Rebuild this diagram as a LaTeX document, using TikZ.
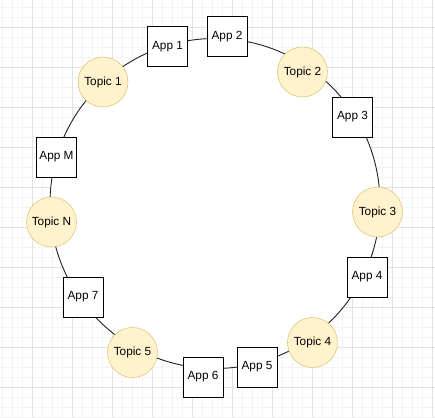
\documentclass[tikz,border=0pt]{standalone}
\usepackage{fontspec}
\setmainfont{Liberation Sans}
\definecolor{topicfill}{HTML}{FFF2CC}
\definecolor{topicline}{HTML}{D6B656}
\definecolor{gridminor}{HTML}{F3F3F3}
\definecolor{gridmajor}{HTML}{E2E2E2}
\definecolor{ringline}{HTML}{222222}

\begin{document}
\begin{tikzpicture}[x=1pt,y=-1pt]
\tikzstyle{every node}+=[inner sep=0pt, font=\fontsize{11.8}{13}\selectfont]
\tikzstyle{topic}=[circle, draw=topicline, fill=topicfill, minimum size=50pt]
\tikzstyle{app}=[draw=black, fill=white, line width=1pt, minimum size=40pt]
\useasboundingbox (0,0) rectangle (435,417);
% background grid
\foreach \gx in {2,12,...,432} \draw [gridminor] (\gx,0) -- (\gx,417);
\foreach \gy in {7,17,...,417} \draw [gridminor] (0,\gy) -- (435,\gy);
\foreach \gx in {32,72,...,432} \draw [gridmajor] (\gx,0) -- (\gx,417);
\foreach \gy in {27,67,...,387} \draw [gridmajor] (0,\gy) -- (435,\gy);
% ring
\node [circle, draw=ringline, line width=0.9pt, fill=white, minimum size=330pt] (ring) at (215,203.5) {};
% topics
\node [topic] (topic1) at (103,82) {Topic 1};
\node [topic] (topic2) at (302.5,72) {Topic 2};
\node [topic] (topic3) at (377.5,212) {Topic 3};
\node [topic] (topic4) at (312.5,342.5) {Topic 4};
\node [topic] (topic5) at (132.5,352.5) {Topic 5};
\node [topic] (topicN) at (51.5,222) {Topic N};
% apps
\node [app] (app1) at (167.5,47) {App 1};
\node [app] (app2) at (227,37) {App 2};
\node [app] (app3) at (352.5,117) {App 3};
\node [app] (app4) at (367,277) {App 4};
\node [app] (app5) at (257,367) {App 5};
\node [app] (app6) at (203,377) {App 6};
\node [app] (app7) at (83,297) {App 7};
\node [app] (appM) at (56.5,157) {App M};
\end{tikzpicture}
\end{document}
